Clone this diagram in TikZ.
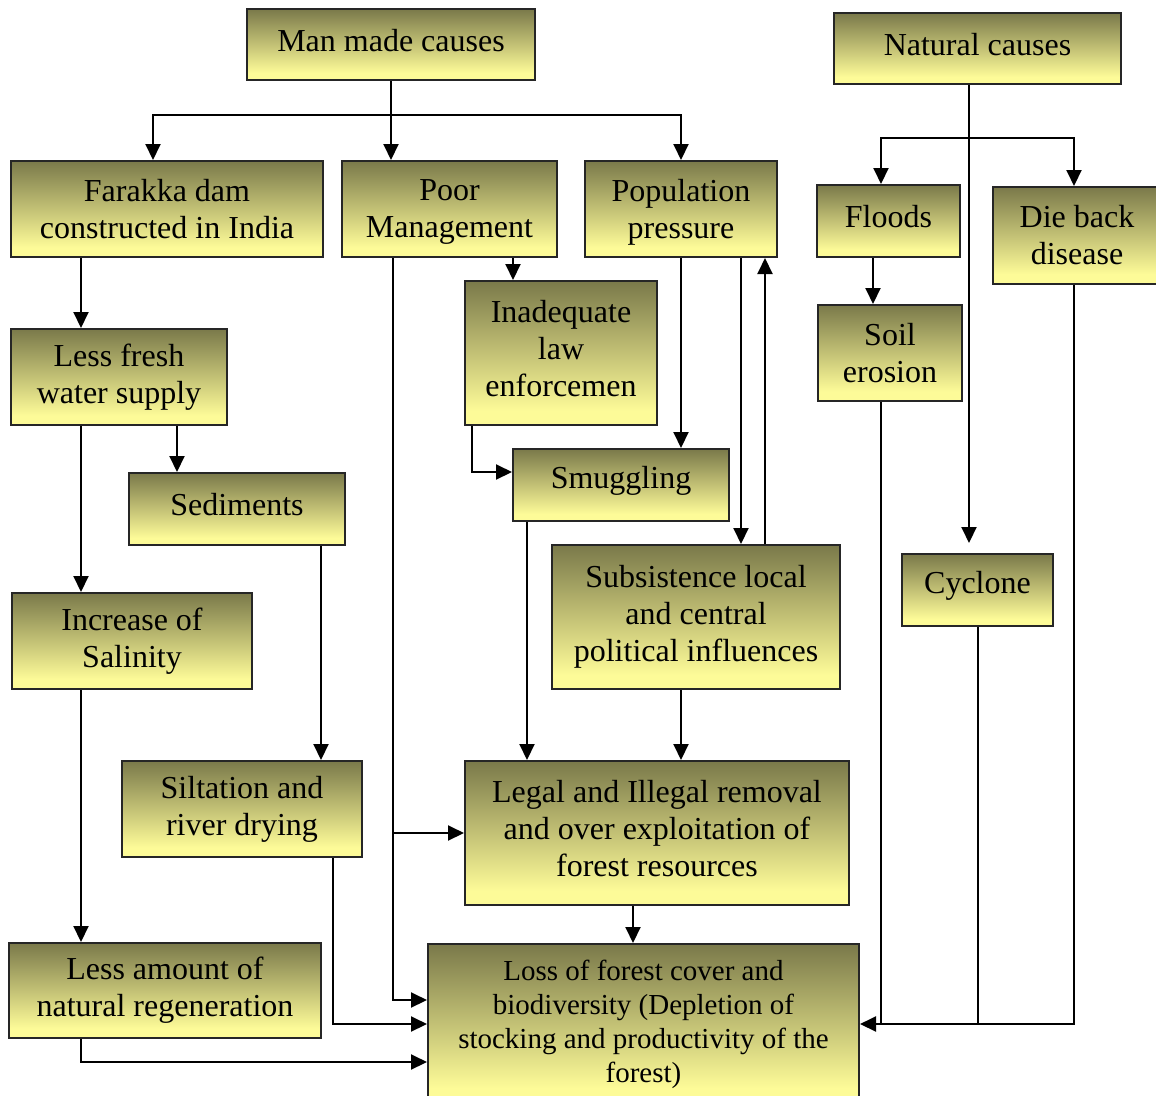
\documentclass[tikz,border=0pt]{standalone}
\usepackage{fontspec}
\setmainfont{Liberation Serif}
\usepackage{tikz}
\usetikzlibrary{arrows.meta, positioning}
\definecolor{darkolive}{RGB}{122, 121, 74}
\definecolor{paleyellow}{RGB}{253, 251, 152}
\pgfdeclareverticalshading{olivefade}{100bp}{color(0bp)=(paleyellow); color(30bp)=(paleyellow); color(75bp)=(darkolive); color(100bp)=(darkolive)}
\newcommand{\upline}[1]{\raisebox{4pt}[\height][\depth]{#1}}
\newcommand{\downline}[1]{\raisebox{-3pt}[\height][\depth]{#1}}

\begin{document}
\begin{tikzpicture}[
    x=1pt, y=-1pt,
    cause/.style={rectangle, draw=black!85, line width=2pt, shading=olivefade, inner sep=0pt, align=center, font=\fontsize{32}{37}\selectfont},
    line/.style={line width=2pt},
    arrow/.style={line, -{Triangle[length=16pt, width=15pt]}}
]
    \useasboundingbox (0,0) rectangle (1156,1095);

    % cause boxes
    \node[cause, minimum width=288pt, minimum height=71pt] (mmc) at (391,44.5) {\upline{Man made causes}};
    \node[cause, minimum width=287pt, minimum height=71pt] (nat) at (977.5,48.5) {\upline{Natural causes}};
    \node[cause, minimum width=312pt, minimum height=96pt] (far) at (167,209) {Farakka dam\\constructed in India};
    \node[cause, minimum width=215pt, minimum height=96pt] (poor) at (449.5,209) {\downline{Poor}\\\downline{Management}};
    \node[cause, minimum width=192pt, minimum height=96pt] (pop) at (681,209) {\downline{Population}\\\downline{pressure}};
    \node[cause, minimum width=143pt, minimum height=72pt] (floods) at (888.5,221) {\upline{Floods}};
    \node[cause, minimum width=168pt, minimum height=97pt] (die) at (1077,235.5) {Die back\\disease};
    \node[cause, minimum width=192pt, minimum height=144pt] (inad) at (561,353) {\upline{Inadequate}\\\upline{law}\\\upline{enforcemen}};
    \node[cause, minimum width=144pt, minimum height=96pt] (soil) at (890,353) {Soil\\erosion};
    \node[cause, minimum width=216pt, minimum height=96pt] (fresh) at (119,377) {Less fresh\\water supply};
    \node[cause, minimum width=216pt, minimum height=72pt] (sed) at (237,509) {\upline{Sediments}};
    \node[cause, minimum width=216pt, minimum height=72pt] (smug) at (621,485) {\upline{Smuggling}};
    \node[cause, minimum width=288pt, minimum height=144pt] (subs) at (696,617) {Subsistence local\\and central\\political influences};
    \node[cause, minimum width=151pt, minimum height=72pt] (cyc) at (977.5,590) {\upline{Cyclone}};
    \node[cause, minimum width=240pt, minimum height=96pt] (sal) at (132,641) {Increase of\\Salinity};
    \node[cause, minimum width=240pt, minimum height=96pt] (silt) at (242,809) {Siltation and\\river drying};
    \node[cause, minimum width=384pt, minimum height=144pt] (legal) at (657,833) {\upline{Legal and Illegal removal}\\\upline{and over exploitation of}\\\upline{forest resources}};
    \node[cause, minimum width=312pt, minimum height=95pt] (less) at (165,990.5) {Less amount of\\natural regeneration};
    \node[cause, minimum width=431pt, minimum height=160pt, font=\fontsize{29}{34}\selectfont] (loss) at (643.5,1024) {Loss of forest cover and\\biodiversity (Depletion of\\stocking and productivity of the\\forest)};

    % man made branch
    \draw[arrow] (mmc.south) -- ++(0,34) -| ([xshift=-14pt]far.north);
    \draw[arrow] (mmc.south) -- (mmc.south |- poor.north);
    \draw[arrow] (mmc.south) -- ++(0,34) -| (pop.north);
    \draw[arrow] ([xshift=-86pt]far.south) -- ([xshift=-86pt]far.south |- fresh.north);
    \draw[arrow] ([xshift=58pt]fresh.south) -- ([xshift=58pt]fresh.south |- sed.north);
    \draw[arrow] ([xshift=-38pt]fresh.south) -- ([xshift=-38pt]fresh.south |- sal.north);
    \draw[arrow] ([xshift=-51pt]sal.south) -- ([xshift=-51pt]sal.south |- less.north);
    \draw[arrow] ([xshift=84pt]sed.south) -- ([xshift=84pt]sed.south |- silt.north);
    \draw[arrow] ([xshift=91pt]silt.south) |- (loss.west);
    \draw[arrow] ([xshift=-84pt]less.south) |- ([yshift=-38pt]loss.west);
    \draw[arrow] ([xshift=-56.5pt]poor.south) |- (legal.west);
    \draw[arrow] ([xshift=-56.5pt]poor.south) |- ([yshift=24pt]loss.west);
    \draw[arrow] ([xshift=63.5pt]poor.south) -- ([xshift=63.5pt]poor.south |- inad.north);
    \draw[arrow] ([xshift=-89pt]inad.south) |- ([yshift=13pt]smug.west);
    \draw[arrow] (pop.south) -- (pop.south |- smug.north);
    \draw[arrow] ([xshift=60pt]pop.south) -- ([xshift=60pt]pop.south |- subs.north);
    \draw[arrow] ([xshift=69pt]subs.north) -- ([xshift=69pt]subs.north |- pop.south);
    \draw[arrow] ([xshift=-94pt]smug.south) -- ([xshift=-94pt]smug.south |- legal.north);
    \draw[arrow] ([xshift=-15pt]subs.south) -- ([xshift=-15pt]subs.south |- legal.north);
    \draw[arrow] ([xshift=-24pt]legal.south) -- ([xshift=-24pt]legal.south |- loss.north);

    % natural branch
    \draw[arrow, shorten >=10pt] ([xshift=-8.5pt]nat.south) -- ([xshift=-8.5pt]cyc.north);
    \draw[arrow] ([xshift=-8.5pt]nat.south) ++(0,53) -| ([xshift=-7.5pt]floods.north);
    \draw[arrow] ([xshift=-8.5pt]nat.south) ++(0,53) -| ([xshift=-3pt]die.north);
    \draw[arrow] ([xshift=-15.5pt]floods.south) -- ([xshift=-15.5pt]floods.south |- soil.north);
    \draw[line] ([xshift=-9pt]soil.south) -- ([xshift=-9pt]soil.south |- loss.east);
    \draw[line] (cyc.south) -- (cyc.south |- loss.east);
    \draw[arrow] ([xshift=-3pt]die.south) |- (loss.east);
\end{tikzpicture}
\end{document}
